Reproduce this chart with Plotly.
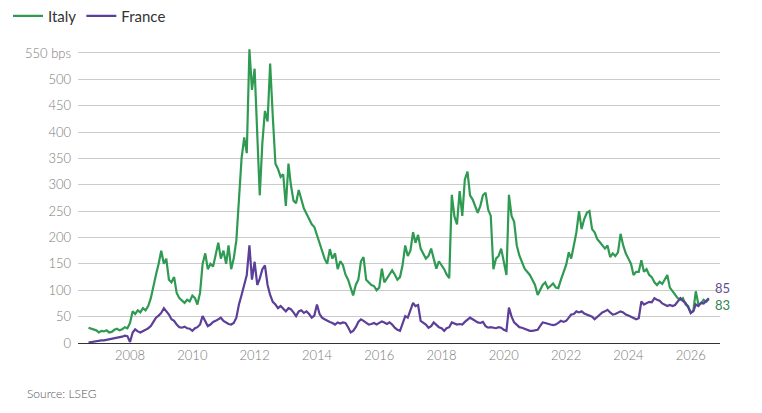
import pandas as pd
import plotly.graph_objects as go

# Monthly spread over Bunds (bps), Sep 2006 - Aug 2026
datas = pd.date_range("2006-09-01", "2026-08-01", freq="MS")

italia = [
    29, 27, 26, 24,
    20, 23, 22, 24, 20, 21, 25, 27, 24, 26, 30, 28,
    38, 60, 55, 62, 58, 66, 62, 70, 85, 110, 130, 150,
    175, 150, 160, 120, 115, 125, 95, 85, 80, 76, 82, 79,
    90, 85, 73, 95, 150, 170, 140, 150, 145, 165, 190, 160,
    175, 150, 185, 140, 160, 195, 280, 350, 390, 360, 557, 480,
    520, 400, 280, 380, 440, 420, 530, 430, 340, 330, 315, 320,
    260, 340, 300, 270, 265, 290, 270, 255, 245, 235, 225, 220,
    205, 190, 175, 160, 150, 178, 160, 170, 140, 155, 148, 130,
    120, 105, 90, 110, 120, 155, 163, 120, 115, 110, 108, 100,
    105, 141, 115, 123, 130, 138, 130, 120, 125, 148, 185, 165,
    175, 210, 190, 205, 179, 170, 160, 165, 179, 160, 141, 155,
    148, 140, 130, 123, 281, 240, 225, 288, 241, 310, 325, 280,
    272, 260, 247, 260, 280, 285, 253, 241, 140, 160, 165, 179,
    154, 129, 281, 241, 230, 185, 166, 155, 141, 135, 129, 120,
    110, 91, 100, 110, 115, 104, 108, 113, 105, 104, 120, 135,
    148, 172, 160, 185, 210, 250, 216, 235, 247, 250, 216, 210,
    197, 191, 185, 179, 185, 163, 170, 165, 172, 207, 185, 170,
    160, 150, 129, 135, 135, 157, 135, 140, 129, 125, 115, 110,
    116, 112, 120, 129, 105, 98, 90, 85, 82, 85, 73, 70,
    57, 62, 98, 73, 75, 82, 78, 83,
]

franca = [
    1, 2, 3, 3,
    4, 5, 5, 6, 6, 7, 8, 9, 11, 12, 14, 13,
    2, 20, 26, 22, 20, 22, 25, 28, 32, 40, 48, 52,
    57, 66, 60, 54, 45, 42, 35, 30, 29, 31, 28, 27,
    23, 28, 30, 35, 51, 42, 32, 35, 40, 42, 45, 48,
    42, 39, 36, 35, 38, 48, 73, 91, 110, 129, 185, 120,
    154, 110, 122, 140, 147, 110, 91, 78, 73, 66, 70, 64,
    60, 66, 64, 58, 51, 60, 62, 57, 60, 55, 48, 52,
    73, 55, 48, 45, 42, 40, 38, 35, 39, 37, 39, 38,
    30, 20, 23, 30, 40, 45, 42, 38, 35, 36, 38, 35,
    38, 41, 39, 36, 39, 35, 29, 25, 23, 35, 51, 48,
    62, 76, 70, 72, 42, 38, 35, 29, 32, 39, 35, 30,
    28, 23, 28, 30, 39, 37, 35, 36, 35, 40, 45, 48,
    45, 42, 39, 38, 40, 32, 29, 30, 29, 28, 30, 29,
    25, 23, 67, 50, 39, 35, 30, 29, 27, 24, 23, 23,
    24, 25, 32, 39, 38, 36, 35, 34, 35, 38, 42, 40,
    42, 48, 54, 55, 60, 58, 60, 56, 54, 52, 50, 45,
    50, 55, 58, 60, 63, 58, 54, 55, 57, 60, 58, 54,
    52, 50, 47, 45, 47, 79, 73, 76, 78, 77, 85, 82,
    80, 75, 73, 70, 72, 70, 72, 78, 85, 80, 76, 68,
    57, 60, 73, 70, 76, 75, 80, 85,
]

valores_y = [0, 50, 100, 150, 200, 250, 300, 350, 400, 450, 500, 550]
textos_y = ["0", "50", "100", "150", "200", "250", "300", "350", "400", "450", "500", "550 bps"]
anos = [str(a) for a in range(2008, 2027, 2)]

verde = "#2f9a52"
roxo = "#5b3f98"
cinza = "#7a7a7a"

fig = go.Figure()
fig.add_trace(go.Scatter(x=datas, y=italia, name="Italy", mode="lines",
                         line=dict(color=verde, width=2.2)))
fig.add_trace(go.Scatter(x=datas, y=franca, name="France", mode="lines",
                         line=dict(color=roxo, width=2.2)))

# Rótulos dos últimos valores
fig.add_annotation(x=datas[-1], y=franca[-1], text=str(franca[-1]), showarrow=False,
                   xanchor="left", xshift=4, yshift=10,
                   font=dict(color="#5e4e90", size=13, weight=400))
fig.add_annotation(x=datas[-1], y=italia[-1], text=str(italia[-1]), showarrow=False,
                   xanchor="left", xshift=4, yshift=-6,
                   font=dict(color="#2f8550", size=13, weight=400))

fig.add_annotation(x=0, y=0, xref="paper", yref="paper", text="Source: LSEG", showarrow=False,
                   xanchor="left", yanchor="bottom", xshift=-53, yshift=-60,
                   font=dict(color="#555555", size=12))

# a página tem margem de 8px, então desconta no tamanho
fig.update_layout(
    width=754, height=405,
    margin=dict(l=70, r=42, t=34, b=70),
    paper_bgcolor="white", plot_bgcolor="white",
    font=dict(family="Lato", color=cinza, size=13, weight=300),
    showlegend=True,
    legend=dict(orientation="h", xref="container", yref="container", x=-0.01, y=0.98,
                xanchor="left", yanchor="middle",
                font=dict(size=15, color="#333333", weight=400), itemwidth=30, tracegroupgap=0),
    xaxis=dict(range=["2006-05-01", "2026-12-10"], tickvals=[a + "-01-01" for a in anos],
               ticktext=anos, showgrid=False, showline=True, linecolor="#333333",
               linewidth=1, ticks="", zeroline=False),
    yaxis=dict(range=[0, 560], tickvals=valores_y, ticktext=textos_y, showgrid=True,
               gridcolor="#cccccc", gridwidth=1, zeroline=False, ticks="", ticklabelstandoff=6),
)

fig.write_html("out.html")
